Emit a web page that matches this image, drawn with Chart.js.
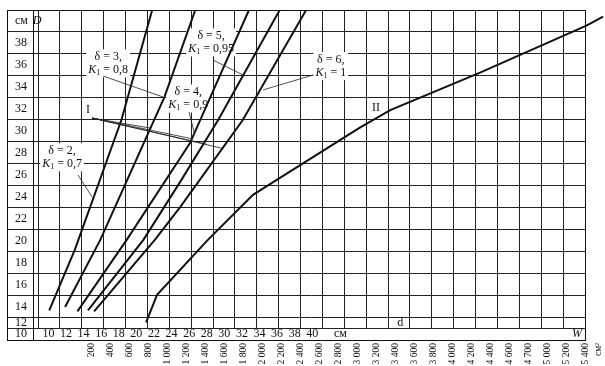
<!DOCTYPE html>
<html>
<head>
<meta charset="utf-8">
<script src="https://cdn.jsdelivr.net/npm/chart.js@4.4.1/dist/chart.umd.min.js"></script>
<style>
  html, body { margin: 0; padding: 0; background: #fff; }
  #box { position: relative; width: 605px; height: 366px; }
</style>
</head>
<body>
<div id="box"><canvas id="nomogram"></canvas></div>
<script>
// family I: delta and K1 of each curve
const deltas = ['2', '3', '4', '5', '6'];
const k1 = ['0,7', '0,8', '0,9', '0,95', '1'];

// family I, d (cm) against D (cm)
const d_2 = [10.1, 13.0, 18.3, 21.8];
const D_2 = [13.7, 19.2, 31.0, 41.0];
const d_3 = [11.9, 15.9, 23.2, 26.7];
const D_3 = [14.0, 20.1, 33.1, 41.0];
const d_4 = [13.3, 18.9, 26.1, 32.8];
const D_4 = [13.6, 20.1, 28.9, 41.0];
const d_5 = [14.5, 20.8, 25.0, 29.3, 36.3];
const D_5 = [13.7, 20.1, 25.4, 31.0, 41.0];
const d_6 = [15.2, 22.1, 25.0, 32.1, 39.3];
const D_6 = [13.6, 20.1, 23.1, 31.0, 41.0];

// curve II, W (cm²) against D (cm)
const W_II = [780, 895, 1430, 1905, 3030, 3350, 4295, 5420, 5590];
const D_II = [12.6, 15.1, 20.1, 24.2, 30.3, 31.9, 35.3, 39.6, 40.4];

// tick labels
const dTicks = [10, 12, 14, 16, 18, 20, 22, 24, 26, 28, 30, 32, 34, 36, 38, 40];
const wTicks = [200, 400, 600, 800, 1000, 1200, 1400, 1600, 1800, 2000, 2200, 2400, 2600,
  2800, 3000, 3200, 3400, 3600, 3800, 4000, 4200, 4400, 4600, 4800, 5000, 5200, 5400];
const wLabels = ['200', '400', '600', '800', '1 000', '1 200', '1 400', '1 600', '1 800', '2 000',
  '2 200', '2 400', '2 600', '2 800', '3 000', '3 200', '3 400', '3 600', '3 800', '4 000',
  '4 200', '4 400', '4 600', '4 700', '5 000', '5 200', '5 400'];
const yLabels = ['10', '12', '14', '16', '18', '20', '22', '24', '26', '28', '30', '32', '34', '36', '38', 'см'];

// scale layout (table rows / columns of the nomogram)
const Y_MIN = 12.09, Y_MAX = 41;
const D_MIN = 8.82, D_MAX = 71.0;
const W_MIN = -358, W_MAX = 5400;
const yLabelAt = [11.55, 12.55, 14, 16, 18, 20, 22, 24, 26, 28, 30, 32, 34, 36, 38, 40];
const yRules = [Y_MIN, 13, 15, 17, 19, 21, 23, 25, 27, 29, 31, 33, 35, 37, 39, Y_MAX];
const D_UNIT_AT = 43.2;

// annotation places, in (d, D)
const noteAt = [[11.55, 27.6], [16.8, 36.15], [25.9, 32.95], [28.5, 38.05], [42.1, 35.9]];
const leadFrom = [[13.37, 26.0], [16.22, 35.0], [25.99, 31.73], [28.72, 36.45], [40.09, 35.09]];
const leadTo = [[14.96, 24.0], [23.03, 33.09], [26.6, 29.8], [32.13, 35.09], [34.40, 33.73]];
const iAt = [14.51, 31.91];
const iFrom = [14.96, 31.18];
const iTo = [[21.55, 30.27], [26.3, 29.3], [28.0, 28.8], [29.9, 28.4]];

const SERIF = "'Liberation Serif', 'DejaVu Serif', serif";
const INK = '#111';
function fnt(px, style) { return (style ? style + ' ' : '') + px + 'px ' + SERIF; }

Chart.defaults.font.family = SERIF;
Chart.defaults.color = INK;

function kParts(ctx, val) {
  ctx.font = fnt(12, 'italic'); const a = ctx.measureText('K').width;
  ctx.font = fnt(8); const b = ctx.measureText('1').width;
  ctx.font = fnt(12); const c = ctx.measureText(' = ' + val).width;
  return [a, b, c];
}
function noteWidth(ctx, i) {
  ctx.font = fnt(12);
  const w1 = ctx.measureText('δ = ' + deltas[i] + ',').width;
  const p = kParts(ctx, k1[i]);
  return Math.max(w1, p[0] + p[1] + p[2]);
}
function drawNote(ctx, i, cx, cy) {
  ctx.textBaseline = 'middle';
  ctx.textAlign = 'center';
  ctx.font = fnt(12);
  ctx.fillText('δ = ' + deltas[i] + ',', cx, cy - 6.5);
  const p = kParts(ctx, k1[i]);
  let x = cx - (p[0] + p[1] + p[2]) / 2;
  const yy = cy + 6.5;
  ctx.textAlign = 'left';
  ctx.font = fnt(12, 'italic'); ctx.fillText('K', x, yy); x += p[0];
  ctx.font = fnt(8); ctx.fillText('1', x, yy + 3); x += p[1];
  ctx.font = fnt(12); ctx.fillText(' = ' + k1[i], x, yy);
}

const notes = {
  id: 'notes',
  beforeDatasetsDraw(chart) {
    const { ctx, scales: { xd, xw, y } } = chart;
    ctx.save();
    ctx.fillStyle = '#fff';
    deltas.forEach((_, i) => {
      const cx = xd.getPixelForValue(noteAt[i][0]);
      const cy = y.getPixelForValue(noteAt[i][1]);
      const w = noteWidth(ctx, i) + 4;
      ctx.fillRect(cx - w / 2, cy - 14, w, 28);
    });
    ctx.fillRect(xd.getPixelForValue(iAt[0]) - 4, y.getPixelForValue(iAt[1]) - 7, 8, 14);
    ctx.fillRect(xw.getPixelForValue(3200) - 7, y.getPixelForValue(32.09) - 7, 14, 14);
    ctx.restore();
  },
  afterDatasetsDraw(chart) {
    const { ctx, scales: { xd, xw, y } } = chart;
    const px = p => [xd.getPixelForValue(p[0]), y.getPixelForValue(p[1])];
    ctx.save();
    ctx.strokeStyle = '#222';
    ctx.lineWidth = 0.8;
    ctx.beginPath();
    leadFrom.forEach((f, i) => {
      const a = px(f), b = px(leadTo[i]);
      ctx.moveTo(a[0], a[1]); ctx.lineTo(b[0], b[1]);
    });
    const s = px(iFrom);
    iTo.forEach(t => { const b = px(t); ctx.moveTo(s[0], s[1]); ctx.lineTo(b[0], b[1]); });
    ctx.stroke();

    ctx.fillStyle = INK;
    deltas.forEach((_, i) => drawNote(ctx, i, xd.getPixelForValue(noteAt[i][0]), y.getPixelForValue(noteAt[i][1])));

    ctx.textAlign = 'center';
    ctx.textBaseline = 'middle';
    ctx.font = fnt(12);
    const ip = px(iAt);
    ctx.fillText('I', ip[0], ip[1]);
    ctx.fillText('II', xw.getPixelForValue(3200), y.getPixelForValue(32.09));
    ctx.fillText('d', xd.getPixelForValue(50), y.getPixelForValue(12.55));
    ctx.font = fnt(12, 'italic');
    ctx.fillText('W', xw.getPixelForValue(5316), y.getPixelForValue(11.55));
    ctx.fillText('D', chart.chartArea.left - 1, y.getPixelForValue(40));
    ctx.restore();
  },
  afterDraw(chart) {
    const { ctx, chartArea: a } = chart;
    const L = a.left - 31, B = a.bottom + 12;
    ctx.save();
    ctx.strokeStyle = INK;
    ctx.lineWidth = 1;
    ctx.strokeRect(L + 0.5, a.top + 0.5, a.right - L, B - a.top);
    ctx.beginPath();
    ctx.moveTo(a.left - 4.5, a.top);
    ctx.lineTo(a.left - 4.5, B);
    ctx.stroke();
    // unit of the W scale
    ctx.translate(a.right + 13, B + 3);
    ctx.rotate(-Math.PI / 2);
    ctx.font = fnt(9.5);
    ctx.textAlign = 'right';
    ctx.textBaseline = 'middle';
    ctx.fillStyle = INK;
    ctx.fillText('см²', 0, 0);
    ctx.restore();
  }
};

const family = [[d_2, D_2], [d_3, D_3], [d_4, D_4], [d_5, D_5], [d_6, D_6]];
const datasets = family.map((f, i) => ({
  label: 'δ = ' + deltas[i] + ', K1 = ' + k1[i],
  data: f[0].map((x, j) => ({ x: x, y: f[1][j] })),
  xAxisID: 'xd',
  yAxisID: 'y',
  borderColor: INK,
  borderWidth: 2,
  pointRadius: 0,
  tension: 0,
  fill: false
}));
datasets.push({
  label: 'II',
  data: W_II.map((x, j) => ({ x: x, y: D_II[j] })),
  xAxisID: 'xw',
  yAxisID: 'y',
  borderColor: INK,
  borderWidth: 2,
  pointRadius: 0,
  tension: 0,
  fill: false,
  clip: false
});

new Chart(document.getElementById('nomogram'), {
  type: 'line',
  data: { datasets: datasets },
  options: {
    responsive: true,
    maintainAspectRatio: false,
    animation: false,
    layout: { padding: { left: 15, right: 20, top: 10, bottom: 1 } },
    plugins: { legend: { display: false }, tooltip: { enabled: false } },
    scales: {
      xg: {
        type: 'linear', position: 'bottom', weight: 0, min: 0, max: 25,
        afterBuildTicks: s => { s.ticks = Array.from({ length: 26 }, (_, k) => ({ value: k })); },
        afterFit: s => { s.height = 0; },
        ticks: { display: false },
        grid: { color: '#222', lineWidth: 1, drawTicks: false },
        border: { display: false }
      },
      xd: {
        type: 'linear', position: 'bottom', weight: 1, min: D_MIN, max: D_MAX,
        afterBuildTicks: s => {
          s.ticks = dTicks.map(v => ({ value: v })).concat([{ value: D_UNIT_AT }]);
        },
        afterFit: s => { s.height = 12; },
        ticks: {
          autoSkip: false, minRotation: 0, maxRotation: 0, padding: -1,
          font: { size: 12 }, color: INK,
          callback: (v, i) => (i < dTicks.length ? String(dTicks[i]) : 'см')
        },
        grid: { display: false, drawTicks: false },
        border: { display: false }
      },
      xw: {
        type: 'linear', position: 'bottom', weight: 2, bounds: 'data',
        afterDataLimits: s => { s.min = W_MIN; s.max = W_MAX; },
        afterBuildTicks: s => {
          s.min = W_MIN; s.max = W_MAX;
          s.ticks = wTicks.map(v => ({ value: v }));
        },
        afterFit: s => { s.height = 25; },
        ticks: {
          autoSkip: false, minRotation: 90, maxRotation: 90, padding: 3,
          font: { size: 9.5 }, color: INK,
          callback: (v, i) => wLabels[i]
        },
        grid: { display: false, drawTicks: false },
        border: { display: false }
      },
      y: {
        type: 'linear', position: 'left', min: Y_MIN, max: Y_MAX,
        afterBuildTicks: s => {
          const t = yRules.map(v => ({ value: v, rule: true }))
            .concat(yLabelAt.map((v, i) => ({ value: v, txt: yLabels[i] })));
          t.sort((a, b) => a.value - b.value);
          s.ticks = t;
        },
        afterFit: s => { s.width = 23; },
        ticks: {
          autoSkip: false, crossAlign: 'far', padding: 0,
          font: { size: 12 }, color: INK,
          callback: (v, i, t) => t[i].txt || ''
        },
        grid: {
          color: c => (c.tick && c.tick.rule ? '#222' : 'rgba(0,0,0,0)'),
          lineWidth: 1, drawTicks: true, tickLength: 31
        },
        border: { display: false }
      }
    }
  },
  plugins: [notes]
});
</script>
</body>
</html>
